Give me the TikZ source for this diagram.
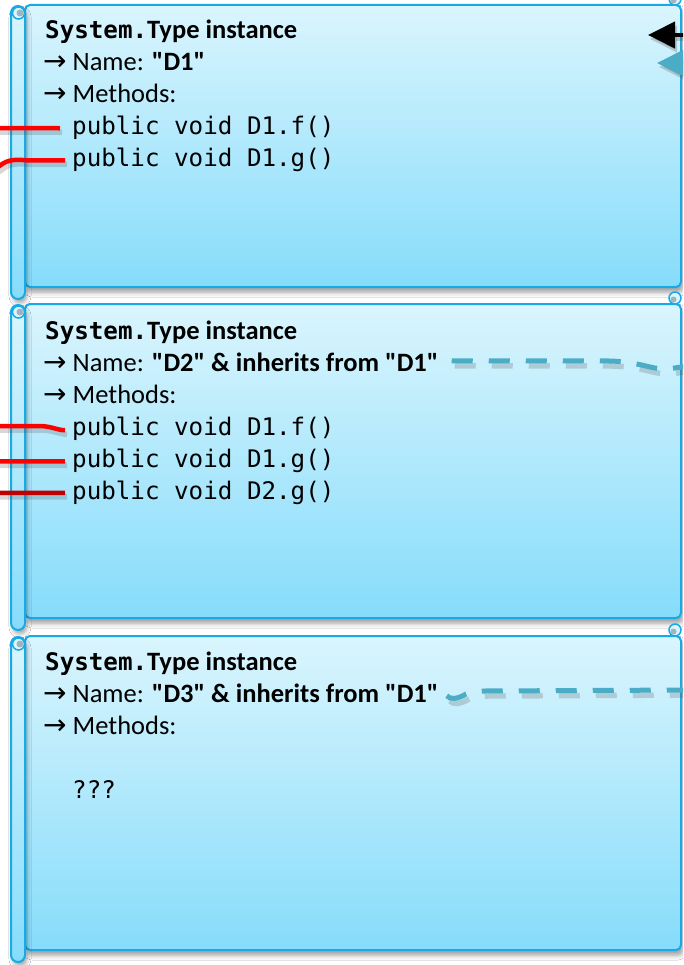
\documentclass[tikz,border=0pt]{standalone}
\usepackage{fontspec}
\setmainfont{Carlito}[Ligatures=TeXOff]
\newfontfamily\codefont{DejaVu Sans Mono}
\newfontfamily\arwfont{DejaVu Sans}
\usetikzlibrary{shadows.blur,calc,arrows.meta}
\definecolor{bodytop}{RGB}{218,245,253}
\definecolor{bodybot}{RGB}{134,220,251}
\definecolor{edge}{RGB}{23,170,230}
\definecolor{curlgray}{RGB}{160,180,190}
\definecolor{inh}{RGB}{75,172,198}
\definecolor{mred}{RGB}{255,0,0}
\definecolor{dred}{RGB}{192,0,0}
\tikzset{
  body/.style={draw=edge, line width=2pt, top color=bodytop, bottom color=bodybot, rounded corners=5pt,
    blur shadow={shadow xshift=2pt, shadow yshift=-5pt, shadow blur radius=5pt, shadow opacity=40}},
  tube/.style={draw=edge, line width=2pt, top color=bodytop, bottom color=bodybot, rounded corners=7pt,
    blur shadow={shadow xshift=2pt, shadow yshift=-4pt, shadow blur radius=4pt, shadow opacity=35}},
  curl/.style={draw=edge, line width=1.5pt, fill=bodytop},
  txt/.style={anchor=base west, inner sep=0pt, font=\fontsize{26.5}{32}\selectfont},
  code/.style={anchor=base west, inner sep=0pt, font=\codefont\fontsize{24.2}{32}\selectfont},
  meth/.style={line width=4.5pt, draw=mred,
    preaction={draw=black!70, opacity=.22, line width=5.5pt, transform canvas={shift={(2pt,-4pt)}}}},
  inherit/.style={draw=inh, line width=5pt, dash pattern=on 21pt off 16pt,
    preaction={draw=black!70, opacity=.22, line width=5.5pt, dash pattern=on 21pt off 16pt, transform canvas={shift={(3pt,-5pt)}}}},
  bigarrow/.style={line width=4pt, -{Triangle[length=27pt,width=26pt]}},
  arrowshadow/.style={draw=black!70, fill=black!70, opacity=.25, line width=4pt, -{Triangle[length=27pt,width=26pt]}},
}
\newcommand\scrollbox[2]{%
  \path[body] (25,#1) rectangle (681,#2);
  \path[tube] (11,#1+1) rectangle (25,#2+12);
  \filldraw[curl] (18.5,#1+8) circle (6pt);
  \fill[curlgray] (20,#1+8) circle (3.5pt);
  \filldraw[curl] (675,#1-6) circle (6pt);
  \fill[curlgray] (673.5,#1-4.5) circle (3pt);
}
\newcommand\arw{{\arwfont\fontsize{28}{32}\selectfont →}\hspace{6pt}}
\newcommand\sysline{{\codefont\fontsize{24.2}{32}\selectfont\bfseries System.}\textbf{Type instance}}
\begin{document}
\begin{tikzpicture}[x=1pt,y=-1pt]
\useasboundingbox (0,0) rectangle (683,965);
\clip (0,0) rectangle (683,965);
\fill[white] (0,0) rectangle (683,965);
\scrollbox{5}{287}
\scrollbox{304}{618}
\scrollbox{636}{950}
% box 1
\node[txt] (h1) at (45,39) {\sysline};
\node[txt] (n1) at (43,71) {\arw Name: \textbf{"D1"}};
\node[txt] (m1) at (43,103) {\arw Methods:};
\node[code] (f1) at (72,135) {public void D1.f()};
\node[code] (g1) at (72,167) {public void D1.g()};
% box 2
\node[txt] (h2) at (45,339) {\sysline};
\node[txt] (n2) at (43,371) {\arw Name: \textbf{"D2" \& inherits from "D1"}};
\node[txt] (m2) at (43,403) {\arw Methods:};
\node[code] (f2) at (72,435) {public void D1.f()};
\node[code] (g2) at (72,467) {public void D1.g()};
\node[code] (k2) at (72,499) {public void D2.g()};
% box 3
\node[txt] (h3) at (45,670) {\sysline};
\node[txt] (n3) at (43,702) {\arw Name: \textbf{"D3" \& inherits from "D1"}};
\node[txt] (m3) at (43,734) {\arw Methods:};
\node[code] (q3) at (72,798) {???};
% method connectors
\coordinate (r11) at (-3,128);
\draw[meth] (r11) -- ($(f1.west)+(-12,0)$);
\coordinate (r12) at (-3,168);
\draw[meth] (r12) .. controls (6,160) and (12,159) .. ($(g1.west)+(-45,0)$) -- ($(g1.west)+(-7,0)$);
\coordinate (r21) at (-3,426);
\draw[meth] (r21) -- (38,426) .. controls (52,426) and (56,430) .. ($(f2.west)+(-7,2)$);
\coordinate (r22) at (-3,461.5);
\draw[meth] (r22) -- ($(g2.west)+(-7,1)$);
\coordinate (r23) at (-3,493);
\draw[meth, draw=dred] (r23) -- ($(k2.west)+(-7,0.5)$);
% inheritance connectors
\coordinate (e2) at (690,366);
\draw[inherit] ($(n2.east)+(13,-1)$) -- (610,361) .. controls (640,362) and (650,369) .. (665,369) .. controls (672,369) and (678,367) .. (e2);
\coordinate (e3) at (690,690);
\draw[inherit] ($(n3.east)+(8,3)$) .. controls (450,700) and (458,699) .. (466,694) .. controls (472,691) and (478,691) .. (484,691) -- (e3);
% arrows entering from the right
\coordinate (a1s) at (720,35);
\coordinate (a1t) at (648,35);
\draw[arrowshadow, transform canvas={shift={(2pt,-4pt)}}] (a1s) -- (a1t);
\draw[bigarrow, draw=black, fill=black] (a1s) -- (a1t);
\coordinate (a2s) at (720,63);
\coordinate (a2t) at (657,63);
\draw[arrowshadow, transform canvas={shift={(2pt,-4pt)}}] (a2s) -- (a2t);
\draw[bigarrow, draw=inh, fill=inh] (a2s) -- (a2t);
\end{tikzpicture}
\end{document}
